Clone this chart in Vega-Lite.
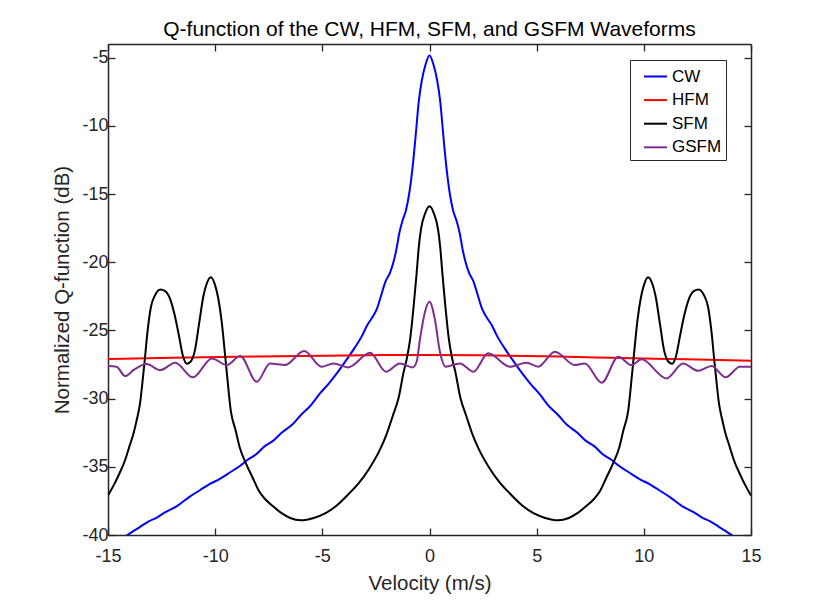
{
 "$schema": "https://vega.github.io/schema/vega-lite/v6.json",
 "autosize": {"type": "none"},
 "width": 643,
 "height": 491,
 "padding": {"left": 108, "top": 44, "right": 79, "bottom": 66},
 "background": "white",
 "title": {"text": "Q-function of the CW, HFM, SFM, and GSFM Waveforms", "font": "Liberation Sans", "fontSize": 21, "fontWeight": "normal", "color": "#000000", "anchor": "middle", "baseline": "alphabetic", "offset": -14},
 "config": {
  "view": {"stroke": null},
  "axis": {"labelFont": "Liberation Sans", "titleFont": "Liberation Sans", "labelFontSize": 18, "titleFontSize": 20.5, "titleFontWeight": "normal", "labelColor": "#262626", "titleColor": "#262626", "domainColor": "#262626", "tickColor": "#262626", "domainWidth": 1.5, "tickWidth": 1.3, "tickSize": -7, "grid": false, "labelFlush": false, "labelOverlap": false},
  "legend": {"labelFont": "Liberation Sans", "labelFontSize": 17, "labelColor": "#000000"}
 },
 "data": {"values": [
  {"s":"CW","v":-15,"q":-40.7},{"s":"CW","v":-14.5,"q":-40.3},{"s":"CW","v":-14.1,"q":-40.0},{"s":"CW","v":-13.8,"q":-39.7},{"s":"CW","v":-13.5,"q":-39.4},{"s":"CW","v":-13.1,"q":-39.0},{"s":"CW","v":-12.7,"q":-38.7},{"s":"CW","v":-12.3,"q":-38.3},{"s":"CW","v":-11.8,"q":-37.9},{"s":"CW","v":-11.2,"q":-37.2},{"s":"CW","v":-10.7,"q":-36.7},{"s":"CW","v":-10.3,"q":-36.3},{"s":"CW","v":-9.8,"q":-35.9},{"s":"CW","v":-9.3,"q":-35.4},{"s":"CW","v":-8.9,"q":-35.0},{"s":"CW","v":-8.5,"q":-34.5},{"s":"CW","v":-8.1,"q":-34.1},{"s":"CW","v":-7.7,"q":-33.5},{"s":"CW","v":-7.3,"q":-33.1},{"s":"CW","v":-6.9,"q":-32.5},{"s":"CW","v":-6.4,"q":-31.9},{"s":"CW","v":-6.0,"q":-31.2},{"s":"CW","v":-5.6,"q":-30.6},{"s":"CW","v":-5.1,"q":-29.6},{"s":"CW","v":-4.7,"q":-28.9},{"s":"CW","v":-4.3,"q":-28.1},{"s":"CW","v":-3.85,"q":-27.1},{"s":"CW","v":-3.5,"q":-26.3},{"s":"CW","v":-3.15,"q":-25.4},{"s":"CW","v":-2.9,"q":-24.6},{"s":"CW","v":-2.65,"q":-24.0},{"s":"CW","v":-2.45,"q":-23.4},{"s":"CW","v":-2.25,"q":-22.4},{"s":"CW","v":-2.05,"q":-21.4},{"s":"CW","v":-1.85,"q":-20.8},{"s":"CW","v":-1.7,"q":-20.1},{"s":"CW","v":-1.55,"q":-19.1},{"s":"CW","v":-1.4,"q":-17.8},{"s":"CW","v":-1.25,"q":-16.9},{"s":"CW","v":-1.1,"q":-16.2},{"s":"CW","v":-0.95,"q":-15.0},{"s":"CW","v":-0.8,"q":-13.2},{"s":"CW","v":-0.65,"q":-10.8},{"s":"CW","v":-0.5,"q":-8.2},{"s":"CW","v":-0.35,"q":-6.6},{"s":"CW","v":-0.2,"q":-5.6},{"s":"CW","v":0,"q":-4.85},
  {"s":"CW","v":0.2,"q":-5.6},{"s":"CW","v":0.35,"q":-6.6},{"s":"CW","v":0.5,"q":-8.2},{"s":"CW","v":0.65,"q":-10.8},{"s":"CW","v":0.8,"q":-13.2},{"s":"CW","v":0.95,"q":-15.0},{"s":"CW","v":1.1,"q":-16.2},{"s":"CW","v":1.25,"q":-16.9},{"s":"CW","v":1.4,"q":-17.8},{"s":"CW","v":1.55,"q":-19.1},{"s":"CW","v":1.7,"q":-20.1},{"s":"CW","v":1.85,"q":-20.8},{"s":"CW","v":2.05,"q":-21.4},{"s":"CW","v":2.25,"q":-22.4},{"s":"CW","v":2.45,"q":-23.4},{"s":"CW","v":2.65,"q":-24.0},{"s":"CW","v":2.9,"q":-24.6},{"s":"CW","v":3.15,"q":-25.4},{"s":"CW","v":3.5,"q":-26.3},{"s":"CW","v":3.85,"q":-27.1},{"s":"CW","v":4.3,"q":-28.1},{"s":"CW","v":4.7,"q":-28.9},{"s":"CW","v":5.1,"q":-29.6},{"s":"CW","v":5.6,"q":-30.6},{"s":"CW","v":6.0,"q":-31.2},{"s":"CW","v":6.4,"q":-31.9},{"s":"CW","v":6.9,"q":-32.5},{"s":"CW","v":7.3,"q":-33.1},{"s":"CW","v":7.7,"q":-33.5},{"s":"CW","v":8.1,"q":-34.1},{"s":"CW","v":8.5,"q":-34.5},{"s":"CW","v":8.9,"q":-35.0},{"s":"CW","v":9.3,"q":-35.4},{"s":"CW","v":9.8,"q":-35.9},{"s":"CW","v":10.3,"q":-36.3},{"s":"CW","v":10.7,"q":-36.7},{"s":"CW","v":11.2,"q":-37.2},{"s":"CW","v":11.8,"q":-37.9},{"s":"CW","v":12.3,"q":-38.3},{"s":"CW","v":12.7,"q":-38.7},{"s":"CW","v":13.1,"q":-39.0},{"s":"CW","v":13.5,"q":-39.4},{"s":"CW","v":13.8,"q":-39.7},{"s":"CW","v":14.1,"q":-40.0},{"s":"CW","v":14.5,"q":-40.3},{"s":"CW","v":15,"q":-40.7},
  {"s":"HFM","v":-15,"q":-27.1},{"s":"HFM","v":-12,"q":-27.0},{"s":"HFM","v":-9,"q":-26.93},{"s":"HFM","v":-6,"q":-26.87},{"s":"HFM","v":-3,"q":-26.82},{"s":"HFM","v":0,"q":-26.8},{"s":"HFM","v":3,"q":-26.84},{"s":"HFM","v":6,"q":-26.92},{"s":"HFM","v":9,"q":-27.02},{"s":"HFM","v":12,"q":-27.12},{"s":"HFM","v":15,"q":-27.22},
  {"s":"SFM","v":-15,"q":-37.1},{"s":"SFM","v":-14.75,"q":-36.4},{"s":"SFM","v":-14.5,"q":-35.6},{"s":"SFM","v":-14.2,"q":-34.5},{"s":"SFM","v":-14.0,"q":-33.5},{"s":"SFM","v":-13.8,"q":-32.5},{"s":"SFM","v":-13.65,"q":-31.5},{"s":"SFM","v":-13.5,"q":-30.3},{"s":"SFM","v":-13.4,"q":-28.9},{"s":"SFM","v":-13.3,"q":-27.4},{"s":"SFM","v":-13.15,"q":-25.0},{"s":"SFM","v":-13.0,"q":-23.3},{"s":"SFM","v":-12.8,"q":-22.4},{"s":"SFM","v":-12.55,"q":-22.0},{"s":"SFM","v":-12.35,"q":-22.1},{"s":"SFM","v":-12.1,"q":-22.7},{"s":"SFM","v":-11.9,"q":-23.8},{"s":"SFM","v":-11.7,"q":-25.3},{"s":"SFM","v":-11.5,"q":-26.9},{"s":"SFM","v":-11.32,"q":-27.45},{"s":"SFM","v":-11.15,"q":-27.3},{"s":"SFM","v":-10.95,"q":-26.5},{"s":"SFM","v":-10.75,"q":-24.5},{"s":"SFM","v":-10.55,"q":-22.5},{"s":"SFM","v":-10.4,"q":-21.6},{"s":"SFM","v":-10.2,"q":-21.1},{"s":"SFM","v":-10.0,"q":-21.7},{"s":"SFM","v":-9.85,"q":-22.7},{"s":"SFM","v":-9.7,"q":-24.3},{"s":"SFM","v":-9.55,"q":-26.6},{"s":"SFM","v":-9.45,"q":-28.2},{"s":"SFM","v":-9.27,"q":-30.9},{"s":"SFM","v":-9.05,"q":-32.3},{"s":"SFM","v":-8.85,"q":-33.6},{"s":"SFM","v":-8.55,"q":-34.8},{"s":"SFM","v":-8.25,"q":-35.8},{"s":"SFM","v":-7.95,"q":-36.8},{"s":"SFM","v":-7.65,"q":-37.4},{"s":"SFM","v":-7.3,"q":-37.9},{"s":"SFM","v":-6.9,"q":-38.4},{"s":"SFM","v":-6.5,"q":-38.75},{"s":"SFM","v":-6.0,"q":-38.92},{"s":"SFM","v":-5.4,"q":-38.75},{"s":"SFM","v":-4.85,"q":-38.4},{"s":"SFM","v":-4.3,"q":-37.8},{"s":"SFM","v":-3.75,"q":-36.96},{"s":"SFM","v":-3.3,"q":-36.2},{"s":"SFM","v":-2.8,"q":-35.1},{"s":"SFM","v":-2.3,"q":-33.7},{"s":"SFM","v":-2.0,"q":-32.6},{"s":"SFM","v":-1.7,"q":-31.2},{"s":"SFM","v":-1.45,"q":-30.0},{"s":"SFM","v":-1.2,"q":-28.0},{"s":"SFM","v":-1.05,"q":-27.0},{"s":"SFM","v":-0.9,"q":-25.6},{"s":"SFM","v":-0.75,"q":-23.4},{"s":"SFM","v":-0.6,"q":-20.8},{"s":"SFM","v":-0.5,"q":-18.9},{"s":"SFM","v":-0.4,"q":-17.6},{"s":"SFM","v":-0.2,"q":-16.4},{"s":"SFM","v":0,"q":-15.9},
  {"s":"SFM","v":0.2,"q":-16.4},{"s":"SFM","v":0.4,"q":-17.6},{"s":"SFM","v":0.5,"q":-18.9},{"s":"SFM","v":0.6,"q":-20.8},{"s":"SFM","v":0.75,"q":-23.4},{"s":"SFM","v":0.9,"q":-25.6},{"s":"SFM","v":1.05,"q":-27.0},{"s":"SFM","v":1.2,"q":-28.0},{"s":"SFM","v":1.45,"q":-30.0},{"s":"SFM","v":1.7,"q":-31.2},{"s":"SFM","v":2.0,"q":-32.6},{"s":"SFM","v":2.3,"q":-33.7},{"s":"SFM","v":2.8,"q":-35.1},{"s":"SFM","v":3.3,"q":-36.2},{"s":"SFM","v":3.75,"q":-36.96},{"s":"SFM","v":4.3,"q":-37.8},{"s":"SFM","v":4.85,"q":-38.4},{"s":"SFM","v":5.4,"q":-38.75},{"s":"SFM","v":6.0,"q":-38.92},{"s":"SFM","v":6.5,"q":-38.75},{"s":"SFM","v":6.9,"q":-38.4},{"s":"SFM","v":7.3,"q":-37.9},{"s":"SFM","v":7.65,"q":-37.4},{"s":"SFM","v":7.95,"q":-36.8},{"s":"SFM","v":8.25,"q":-35.8},{"s":"SFM","v":8.55,"q":-34.8},{"s":"SFM","v":8.85,"q":-33.6},{"s":"SFM","v":9.05,"q":-32.3},{"s":"SFM","v":9.27,"q":-30.9},{"s":"SFM","v":9.45,"q":-28.2},{"s":"SFM","v":9.55,"q":-26.6},{"s":"SFM","v":9.7,"q":-24.3},{"s":"SFM","v":9.85,"q":-22.7},{"s":"SFM","v":10.0,"q":-21.7},{"s":"SFM","v":10.2,"q":-21.1},{"s":"SFM","v":10.4,"q":-21.6},{"s":"SFM","v":10.55,"q":-22.5},{"s":"SFM","v":10.75,"q":-24.5},{"s":"SFM","v":10.95,"q":-26.5},{"s":"SFM","v":11.15,"q":-27.3},{"s":"SFM","v":11.32,"q":-27.45},{"s":"SFM","v":11.5,"q":-26.9},{"s":"SFM","v":11.7,"q":-25.3},{"s":"SFM","v":11.9,"q":-23.8},{"s":"SFM","v":12.1,"q":-22.7},{"s":"SFM","v":12.35,"q":-22.1},{"s":"SFM","v":12.55,"q":-22.0},{"s":"SFM","v":12.8,"q":-22.4},{"s":"SFM","v":13.0,"q":-23.3},{"s":"SFM","v":13.15,"q":-25.0},{"s":"SFM","v":13.3,"q":-27.4},{"s":"SFM","v":13.4,"q":-28.9},{"s":"SFM","v":13.5,"q":-30.3},{"s":"SFM","v":13.65,"q":-31.5},{"s":"SFM","v":13.8,"q":-32.5},{"s":"SFM","v":14.0,"q":-33.5},{"s":"SFM","v":14.2,"q":-34.5},{"s":"SFM","v":14.5,"q":-35.6},{"s":"SFM","v":14.75,"q":-36.4},{"s":"SFM","v":15,"q":-37.1},
  {"s":"GSFM","v":-15,"q":-27.6},{"s":"GSFM","v":-14.6,"q":-27.66},{"s":"GSFM","v":-14.2,"q":-28.35},{"s":"GSFM","v":-13.8,"q":-27.9},{"s":"GSFM","v":-13.2,"q":-27.47},{"s":"GSFM","v":-12.56,"q":-27.91},{"s":"GSFM","v":-11.86,"q":-27.37},{"s":"GSFM","v":-11.04,"q":-28.44},{"s":"GSFM","v":-10.15,"q":-27.05},{"s":"GSFM","v":-9.45,"q":-27.54},{"s":"GSFM","v":-8.83,"q":-26.88},{"s":"GSFM","v":-8.06,"q":-28.77},{"s":"GSFM","v":-7.44,"q":-27.42},{"s":"GSFM","v":-6.74,"q":-27.54},{"s":"GSFM","v":-5.85,"q":-26.51},{"s":"GSFM","v":-5.03,"q":-27.66},{"s":"GSFM","v":-4.48,"q":-27.42},{"s":"GSFM","v":-3.79,"q":-27.71},{"s":"GSFM","v":-2.77,"q":-26.64},{"s":"GSFM","v":-2.03,"q":-28.03},{"s":"GSFM","v":-1.38,"q":-27.42},{"s":"GSFM","v":-0.78,"q":-27.71},{"s":"GSFM","v":-0.6,"q":-27.3},{"s":"GSFM","v":-0.44,"q":-25.6},{"s":"GSFM","v":-0.22,"q":-23.7},{"s":"GSFM","v":0,"q":-22.9},
  {"s":"GSFM","v":0.24,"q":-24.1},{"s":"GSFM","v":0.49,"q":-26.6},{"s":"GSFM","v":0.75,"q":-27.66},{"s":"GSFM","v":1.42,"q":-27.42},{"s":"GSFM","v":2.05,"q":-28.03},{"s":"GSFM","v":2.74,"q":-26.68},{"s":"GSFM","v":3.75,"q":-27.66},{"s":"GSFM","v":4.53,"q":-27.37},{"s":"GSFM","v":5.07,"q":-27.66},{"s":"GSFM","v":5.85,"q":-26.56},{"s":"GSFM","v":6.78,"q":-27.54},{"s":"GSFM","v":7.25,"q":-27.42},{"s":"GSFM","v":8.03,"q":-28.84},{"s":"GSFM","v":8.81,"q":-26.93},{"s":"GSFM","v":9.43,"q":-27.54},{"s":"GSFM","v":9.89,"q":-27.12},{"s":"GSFM","v":11.06,"q":-28.52},{"s":"GSFM","v":11.83,"q":-27.42},{"s":"GSFM","v":12.53,"q":-27.96},{"s":"GSFM","v":13.16,"q":-27.61},{"s":"GSFM","v":13.82,"q":-28.44},{"s":"GSFM","v":14.48,"q":-27.66},{"s":"GSFM","v":15,"q":-27.66}
 ]},
 "layer": [
  {
   "mark": {"type": "line", "strokeWidth": 2, "clip": true, "interpolate": "monotone"},
   "encoding": {
    "x": {"field": "v", "type": "quantitative", "scale": {"domain": [-15, 15], "nice": false, "zero": false},
      "axis": {"orient": "bottom", "values": [-15, -10, -5, 0, 5, 10, 15], "labelExpr": "'' + datum.value", "labelPadding": 19, "title": "Velocity (m/s)", "titleX": 321.5, "titleY": 54, "titleBaseline": "alphabetic", "titleAnchor": null}},
    "y": {"field": "q", "type": "quantitative", "scale": {"domain": [-40, -4], "nice": false, "zero": false},
      "axis": {"orient": "left", "values": [-40, -35, -30, -25, -20, -15, -10, -5], "labelExpr": "'' + datum.value", "labelPadding": 7, "title": "Normalized Q-function (dB)", "titleX": -46, "titleY": 245.5, "titleBaseline": "middle", "titleAngle": -90}},
    "color": {"field": "s", "type": "nominal",
      "scale": {"domain": ["CW", "HFM", "SFM", "GSFM"], "range": ["#0000FF", "#FF0000", "#000000", "#7E2F8E"]},
      "legend": {"title": null, "orient": "none", "legendX": 522, "legendY": 16, "symbolType": "stroke", "symbolSize": 529, "symbolStrokeWidth": 2, "strokeColor": "#262626", "fillColor": "#FFFFFF", "padding": 4, "symbolOffset": 9, "labelOffset": 4, "rowPadding": 2.6}}
   }
  },
  {
   "mark": {"type": "point", "opacity": 0},
   "encoding": {
    "x": {"field": "v", "type": "quantitative", "axis": {"orient": "top", "values": [-15, -10, -5, 0, 5, 10, 15], "labels": false, "title": null}},
    "y": {"field": "q", "type": "quantitative", "axis": {"orient": "right", "values": [-40, -35, -30, -25, -20, -15, -10, -5], "labels": false, "title": null}}
   }
  }
 ],
 "resolve": {"axis": {"x": "independent", "y": "independent"}}
}
